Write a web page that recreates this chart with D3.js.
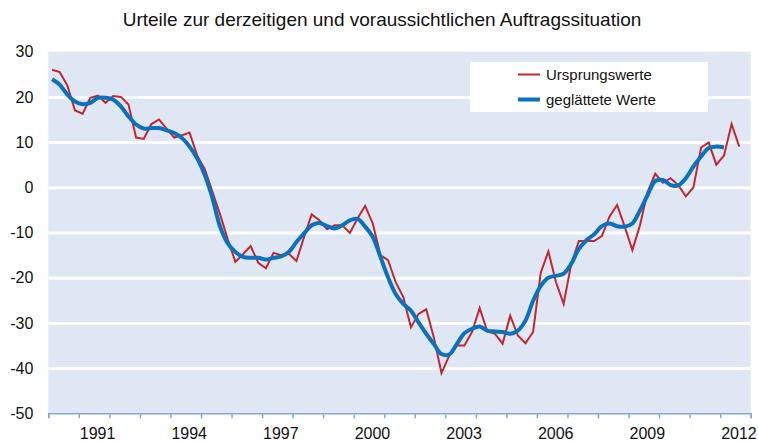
<!doctype html>
<html>
<head>
<meta charset="utf-8">
<script src="https://d3js.org/d3.v7.min.js"></script>
<style>
body { margin: 0; background: #fff; }
svg { font-family: "Liberation Sans", Arial, sans-serif; display: block; }
</style>
</head>
<body>
<svg width="758" height="441"></svg>
<script>
// quarterly values, 1990 Q1 onwards
var startYear = 1990;

var ursprungswerte = [
  26, 25.5, 22.5, 17,
  16.3, 19.8, 20.3, 18.7,
  20.2, 20, 18.3, 11,
  10.7, 14, 15, 13,
  11, 11.5, 12.1, 7,
  4, -1, -6, -11.5,
  -16.5, -14.8, -13, -16.7,
  -17.9, -14.5, -15, -14.7,
  -16.3, -11, -6, -7.3,
  -9.3, -8.4, -8.4, -10.1,
  -6.9, -4.1, -8, -15,
  -16.1, -21, -24.3, -31,
  -28, -27, -33.2, -41.1,
  -37.3, -35, -35, -32,
  -26.7, -31.9, -32.4, -34.6,
  -28.4, -32.8, -34.5, -32,
  -18.9, -14.2, -21, -25.8,
  -16.9, -11.9, -11.9, -11.9,
  -10.8, -6.5, -3.9, -8.7,
  -13.9, -8.4, -1, 3,
  1, 2, 0.5, -2,
  0, 8.8, 9.9, 5,
  7, 14, 9
];

var geglaettet = [
  23.9, 22.7, 20.5, 19,
  18.4, 18.7, 19.8, 19.8,
  19.4, 17.9, 15.7, 13.9,
  13, 13.1, 13.1, 12.6,
  12, 10.9, 9, 6.4,
  2.7, -2.4, -8.7, -12.4,
  -14.3, -15.4, -15.6, -15.6,
  -16, -15.6, -15.3, -14.3,
  -12.1, -10.2, -8.4, -7.9,
  -8.6, -9.1, -8.4, -7.3,
  -7, -8.7, -11, -15.4,
  -19.9, -23.6, -25.8, -27.3,
  -29.9, -32.4, -34.7, -36.9,
  -37, -34.7, -32.3, -31.3,
  -30.8, -31.7, -31.9, -32,
  -32.4, -31.7, -29.5, -25.1,
  -21.8, -20, -19.6, -19.1,
  -16.9, -13.6, -11.7, -10.4,
  -8.6, -8, -8.6, -8.7,
  -8, -5.1, -1.7, 1.4,
  1.6, 0.5, 0.4, 2,
  4.6, 6.8, 8.7, 9,
  8.8
];

var yTicks = [30, 20, 10, 0, -10, -20, -30, -40, -50];
var yearLabels = [1991, 1994, 1997, 2000, 2003, 2006, 2009, 2012];
var seriesNames = ["Ursprungswerte", "geglättete Werte"];
var title = "Urteile zur derzeitigen und voraussichtlichen Auftragssituation";

var svg = d3.select("svg");
var plotLeft = 48.3, plotRight = 750.7, plotTop = 51.7, plotBottom = 413.3;

var x = d3.scaleLinear().domain([1990, 2013]).range([plotLeft, plotRight]);
var y = d3.scaleLinear().domain([-50, 30]).range([plotBottom, plotTop]);

function qx(i) { return x(startYear + (i + 0.5) / 4); }

svg.append("text")
  .attr("x", 382).attr("y", 26)
  .attr("text-anchor", "middle")
  .style("font-size", "19px")
  .attr("fill", "#111")
  .text(title);

svg.append("rect")
  .attr("x", plotLeft).attr("y", plotTop)
  .attr("width", plotRight - plotLeft).attr("height", plotBottom - plotTop)
  .attr("fill", "#dfe7f4");

// white gridlines
svg.append("g")
  .attr("transform", "translate(" + plotLeft + ",0)")
  .call(d3.axisLeft(y).tickValues(yTicks.filter(function(d) { return d > -50 && d < 30; }))
    .tickSize(-(plotRight - plotLeft)).tickFormat(""))
  .call(function(g) { g.select(".domain").remove(); })
  .call(function(g) { g.selectAll("line").attr("stroke", "#fff").attr("stroke-width", 3); });

// y labels (plain hyphen minus, as in the original)
svg.append("g")
  .attr("transform", "translate(" + (plotLeft - 11) + ",0)")
  .call(d3.axisLeft(y).tickValues(yTicks).tickSize(0).tickPadding(4)
    .tickFormat(function(d) { return String(d); }))
  .call(function(g) { g.select(".domain").remove(); })
  .call(function(g) {
    g.selectAll("text").style("font-size", "16px").attr("fill", "#111")
      .attr("font-family", null);
  });

// x axis with yearly ticks
svg.append("g")
  .attr("transform", "translate(0," + plotBottom + ")")
  .call(d3.axisBottom(x).tickValues(d3.range(1990, 2014)).tickSize(5).tickFormat(""))
  .call(function(g) {
    g.select(".domain").attr("stroke", "#84a7db").attr("stroke-width", 1.5);
    g.selectAll("line").attr("stroke", "#84a7db").attr("stroke-width", 1.5);
  });

svg.append("g").selectAll("text")
  .data(yearLabels)
  .join("text")
  .attr("x", function(d) { return x(d + 0.5) + 3.5; })
  .attr("y", 438.5)
  .attr("text-anchor", "middle")
  .style("font-size", "16px")
  .attr("fill", "#111")
  .text(function(d) { return d; });

var line = d3.line()
  .x(function(d, i) { return qx(i); })
  .y(function(d) { return y(d); });

svg.append("path")
  .datum(ursprungswerte)
  .attr("fill", "none")
  .attr("stroke", "#c4262e")
  .attr("stroke-width", 2)
  .attr("stroke-linejoin", "miter")
  .attr("d", line);

svg.append("path")
  .datum(geglaettet)
  .attr("fill", "none")
  .attr("stroke", "#0a71bd")
  .attr("stroke-width", 4)
  .attr("stroke-linejoin", "round")
  .attr("d", line.curve(d3.curveCatmullRom.alpha(0.5)));

// legend
var legend = svg.append("g");
legend.append("rect")
  .attr("x", 470).attr("y", 62).attr("width", 238).attr("height", 50)
  .attr("fill", "#fff");
var items = legend.selectAll("g.item")
  .data(seriesNames)
  .join("g")
  .attr("class", "item")
  .attr("transform", function(d, i) { return "translate(0," + (74.5 + i * 25) + ")"; });
items.append("line")
  .attr("x1", 518).attr("x2", 540)
  .attr("stroke", function(d, i) { return i ? "#0a71bd" : "#c4262e"; })
  .attr("stroke-width", function(d, i) { return i ? 4 : 2; });
items.append("text")
  .attr("x", 546).attr("y", 5.5)
  .style("font-size", "15px")
  .attr("fill", "#111")
  .text(function(d) { return d; });
</script>
</body>
</html>
